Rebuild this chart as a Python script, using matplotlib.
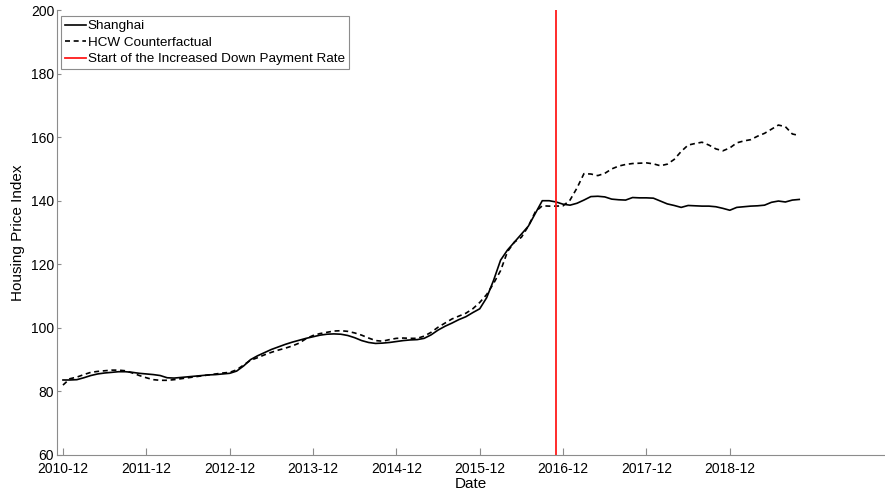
import numpy as np
import matplotlib.pyplot as plt

plt.rcParams['font.family'] = ['Liberation Sans', 'DejaVu Sans']

# monthly housing price index, 2010-12 onwards
shanghai = [
    83.6, 83.6, 83.7, 84.3, 85.0, 85.5, 85.8, 86.0, 86.2, 86.2,
    86.0, 85.7, 85.5, 85.3, 85.0, 84.3, 84.2, 84.4, 84.6, 84.8,
    85.0, 85.2, 85.3, 85.5, 85.7, 86.4, 88.0, 90.0, 91.2, 92.2,
    93.2, 94.0, 94.8, 95.5, 96.1, 96.7, 97.2, 97.7, 98.0, 98.1,
    98.0, 97.6, 96.9, 96.0, 95.4, 95.1, 95.2, 95.4, 95.7, 96.0,
    96.2, 96.3, 96.7, 97.8, 99.3, 100.5, 101.5, 102.6, 103.5, 104.8,
    106.0, 109.5, 115.0, 121.3, 124.5, 127.0, 129.5, 132.0, 136.0, 140.0,
    140.0, 139.6, 138.9, 138.6, 139.2, 140.2, 141.3, 141.4, 141.2, 140.5,
    140.3, 140.2, 141.0, 140.9, 140.9, 140.8, 139.9, 139.0, 138.5, 137.9,
    138.5, 138.4, 138.3, 138.3, 138.1, 137.6, 137.0, 137.9, 138.1, 138.3,
    138.4, 138.6, 139.5, 139.9, 139.6, 140.2, 140.4,
]
hcw = [
    82.0, 84.0, 84.5, 85.3, 86.0, 86.3, 86.5, 86.7, 86.7, 86.5,
    85.8, 85.0, 84.3, 83.7, 83.5, 83.5, 83.7, 84.0, 84.3, 84.6,
    84.9, 85.2, 85.5, 85.8, 86.0, 86.8, 88.3, 89.8, 90.6, 91.5,
    92.3, 93.0, 93.6, 94.3, 95.2, 96.6, 97.6, 98.2, 98.6, 99.0,
    99.1, 98.9, 98.4, 97.7, 96.8, 96.0, 95.8, 96.3, 96.7, 96.8,
    96.7, 96.7, 97.4, 98.6, 100.2, 101.5, 102.8, 103.7, 104.6, 106.0,
    108.0, 110.5, 114.0, 118.0, 124.0, 127.0, 128.5, 132.0, 136.5, 138.4,
    138.3, 138.3, 138.4, 140.2, 144.0, 148.5, 148.4, 147.9, 148.6, 150.0,
    150.9, 151.4, 151.7, 151.8, 151.9, 151.6, 151.0, 151.5, 153.0, 155.5,
    157.5, 158.0, 158.4, 157.5, 156.3, 155.7, 156.6, 158.2, 158.8, 159.2,
    160.3, 161.2, 162.5, 163.8, 163.3, 161.0, 160.5,
]
tick_labels = ['2010-12', '2011-12', '2012-12', '2013-12', '2014-12',
               '2015-12', '2016-12', '2017-12', '2018-12']
policy_month = 71  # 2016-11

x = np.arange(len(shanghai))
gray = '#8c8c8c'

fig = plt.figure(figsize=(8.85, 5), dpi=100)
ax = fig.add_axes([57/885, 45/500, 827/885, 445/500])

ax.plot(x, shanghai, color='k', lw=1.2, label='Shanghai')
ax.plot(x, hcw, color='k', lw=1.2, ls=(0, (3, 2.2)), label='HCW Counterfactual')
ax.axvline(policy_month, color='#ff1a1a', lw=1.3,
           label='Start of the Increased Down Payment Rate')

ax.set_xlim(-0.86, 118.2)
ax.set_ylim(60, 200)
ax.set_xticks(np.arange(len(tick_labels)) * 12, tick_labels)
ax.set_yticks(np.arange(60, 201, 20))

for side in ['top', 'right']:
    ax.spines[side].set_visible(False)
for side in ['left', 'bottom']:
    ax.spines[side].set_color(gray)
    ax.spines[side].set_linewidth(0.8)

ax.tick_params(direction='in', color=gray, labelsize=10, labelcolor='k')
ax.tick_params(axis='x', length=5, pad=5)
ax.tick_params(axis='y', length=3, pad=2)

ax.set_xlabel('Date', fontsize=11, labelpad=1)
ax.set_ylabel('Housing Price Index', fontsize=11, labelpad=4)

leg = ax.legend(loc='upper left', bbox_to_anchor=(0.0048, 0.9865),
                fontsize=9.7, fancybox=False, edgecolor=gray, framealpha=1,
                handlelength=1.55, handletextpad=0.12, labelspacing=0.3,
                borderpad=0.3, borderaxespad=0)
leg.get_frame().set_linewidth(0.8)

fig.savefig('out.png', dpi=100)
